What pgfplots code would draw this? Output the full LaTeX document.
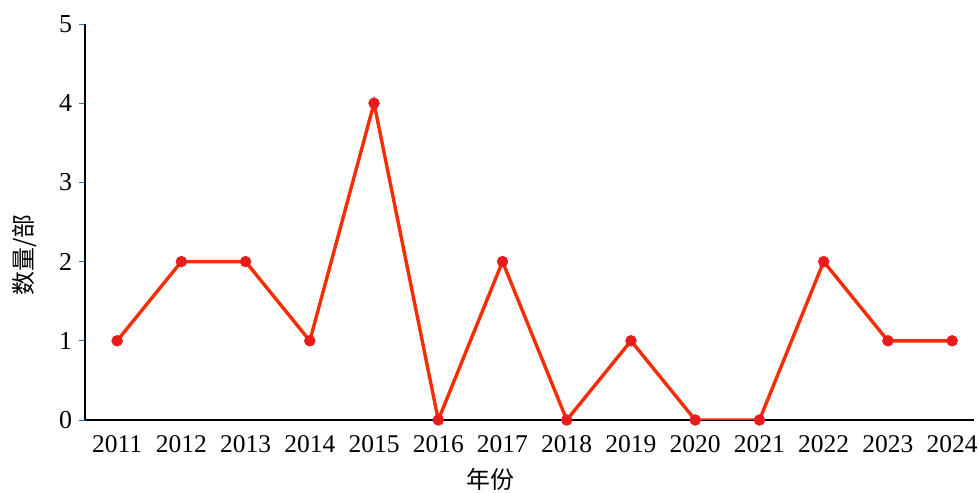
\documentclass[border=0pt]{standalone}
\usepackage{pgfplots}
\pgfplotsset{compat=1.18}
\usepackage{fontspec}
\setmainfont{Liberation Serif}
\newfontfamily\cjk{Noto Sans CJK SC}
\definecolor{linecol}{RGB}{245,45,5}
\definecolor{markcol}{RGB}{232,28,28}
\definecolor{tickblue}{RGB}{40,110,220}
\begin{document}
\begin{tikzpicture}
\useasboundingbox (-42.5bp,-36.5bp) rectangle (447bp,210bp);
\begin{axis}[
  scale only axis,
  width=444.5bp, height=198bp,
  xmin=2010.5, xmax=2024.34,
  ymin=0, ymax=5,
  axis x line*=bottom, axis y line*=left,
  axis line style={black, line width=1bp, -},
  xtick={2011,...,2024},
  ytick={0,1,2,3,4,5},
  x tick label style={/pgf/number format/1000 sep={}, font=\fontsize{12.8}{14}\selectfont, yshift=-1bp},
  y tick label style={font=\fontsize{13}{14}\selectfont},
  /pgf/number format/assume math mode=true,
  xtick style={draw=none},
  ytick style={draw=tickblue, line width=0.5bp},
  tick align=outside,
  major tick length=3bp,
  xlabel={\cjk 年份},
  ylabel={\cjk 数量/部},
  label style={font=\fontsize{12}{14}\selectfont},
  xlabel style={at={(rel axis cs:0.456,0)}, anchor=center, yshift=-29.5bp},
  ylabel style={at={(rel axis cs:0,0.417)}, anchor=center, rotate=0, yshift=30bp},
]
\addplot[color=linecol, line width=1.7bp, mark=*, mark size=2.7bp,
  mark options={fill=markcol, draw=markcol, line width=0.3bp}]
  coordinates {
  (2011,1) (2012,2) (2013,2) (2014,1) (2015,4) (2016,0) (2017,2)
  (2018,0) (2019,1) (2020,0) (2021,0) (2022,2) (2023,1) (2024,1)
  };
\end{axis}
\end{tikzpicture}
\end{document}
